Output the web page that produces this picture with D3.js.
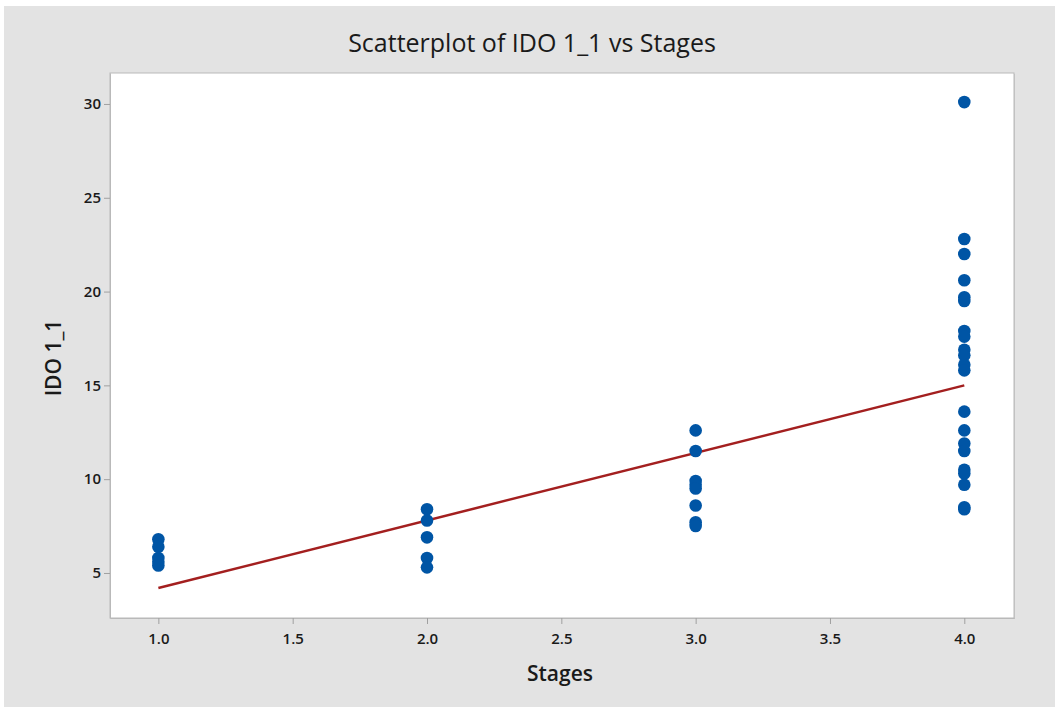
<!DOCTYPE html>
<html>
<head>
<meta charset="utf-8">
<script src="https://cdn.jsdelivr.net/npm/d3@7"></script>
<style>
  html, body { margin: 0; padding: 0; background: #ffffff; }
  svg { display: block; font-family: "Open Sans", "Noto Sans", sans-serif; }
</style>
</head>
<body>
<div id="chart"></div>
<script>
// data
const stage1 = [6.8, 6.4, 5.8, 5.6, 5.4];
const stage2 = [8.4, 7.8, 6.9, 5.8, 5.3];
const stage3 = [12.6, 11.5, 9.9, 9.7, 9.5, 8.6, 7.7, 7.5];
const stage4 = [30.1, 22.8, 22.0, 20.6, 19.7, 19.5, 17.9, 17.6, 16.9, 16.6, 16.1, 15.8,
                13.6, 12.6, 11.9, 11.5, 10.5, 10.3, 9.7, 8.5, 8.4];
const stageValues = [1, 2, 3, 4];
const xTicks = [1.0, 1.5, 2.0, 2.5, 3.0, 3.5, 4.0];
const yTicks = [5, 10, 15, 20, 25, 30];
// fitted line: IDO 1_1 = 0.6 + 3.6 * Stages
const fitIntercept = 0.6;
const fitSlope = 3.6;

const points = [];
[stage1, stage2, stage3, stage4].forEach((vals, i) => {
    vals.forEach(v => points.push({ x: stageValues[i], y: v }));
});

const W = 1055, H = 707;
const margin = { top: 73, right: 41, bottom: 89, left: 110 };
const width = W - margin.left - margin.right;
const height = H - margin.top - margin.bottom;

const svg = d3.select("#chart")
    .append("svg")
    .attr("width", W)
    .attr("height", H);

// grey figure background with thin white edge
svg.append("rect")
    .attr("x", 4).attr("y", 6)
    .attr("width", W - 4).attr("height", H - 6)
    .attr("fill", "#e3e3e3");

const g = svg.append("g")
    .attr("transform", "translate(" + margin.left + "," + margin.top + ")");

// plot area
g.append("rect")
    .attr("x", 1).attr("y", 1)
    .attr("width", width).attr("height", height)
    .attr("fill", "#c8c8c8");
g.append("rect")
    .attr("width", width).attr("height", height)
    .attr("fill", "#ffffff")
    .attr("stroke", "#b9b9b9")
    .attr("stroke-width", 1);

const xScale = d3.scaleLinear().domain([0.82, 4.185]).range([0, width]);
const yScale = d3.scaleLinear().domain([2.6, 31.65]).range([height, 0]);

// axes
const xAxis = g.append("g")
    .attr("transform", "translate(0," + height + ")")
    .call(d3.axisBottom(xScale).tickValues(xTicks).tickFormat(d3.format(".1f")).tickSize(6).tickSizeOuter(0));
const yAxis = g.append("g")
    .call(d3.axisLeft(yScale).tickValues(yTicks).tickFormat(d3.format("d")).tickSize(6).tickSizeOuter(0));

[xAxis, yAxis].forEach(ax => {
    ax.select(".domain").attr("stroke", "#b9b9b9");
    ax.selectAll(".tick line").attr("stroke", "#a0a0a0");
    ax.selectAll(".tick text")
        .attr("fill", "#1a1a1a")
        .style("font-size", "15px")
        .style("font-weight", "600")
        .style("font-family", "\"Open Sans\", \"Noto Sans\", sans-serif");
});
xAxis.selectAll(".tick text").attr("dy", "1.15em");
yAxis.selectAll(".tick text").attr("x", -9);

// regression line
const line = d3.line()
    .x(d => xScale(d))
    .y(d => yScale(fitIntercept + fitSlope * d));
g.append("path")
    .attr("d", line([stageValues[0], stageValues[stageValues.length - 1]]))
    .attr("fill", "none")
    .attr("stroke", "#a31f1f")
    .attr("stroke-width", 2.5);

// points
g.selectAll("circle.pt")
    .data(points)
    .enter()
    .append("circle")
    .attr("class", "pt")
    .attr("cx", d => xScale(d.x))
    .attr("cy", d => yScale(d.y))
    .attr("r", 6.3)
    .attr("fill", "#0055a5");

// title and axis labels
svg.append("text")
    .attr("x", margin.left + width / 2 - 30)
    .attr("y", 52)
    .attr("text-anchor", "middle")
    .attr("fill", "#1a1a1a")
    .style("font-size", "25px")
    .text("Scatterplot of IDO 1_1 vs Stages");

svg.append("text")
    .attr("x", margin.left + width / 2 - 2)
    .attr("y", 681)
    .attr("text-anchor", "middle")
    .attr("fill", "#1a1a1a")
    .style("font-size", "21px")
    .style("font-weight", "600")
    .text("Stages");

svg.append("text")
    .attr("transform", "translate(61," + (margin.top + 285) + ") rotate(-90)")
    .attr("text-anchor", "middle")
    .attr("fill", "#1a1a1a")
    .style("font-size", "21px")
    .style("font-weight", "600")
    .text("IDO 1_1");
</script>
</body>
</html>
